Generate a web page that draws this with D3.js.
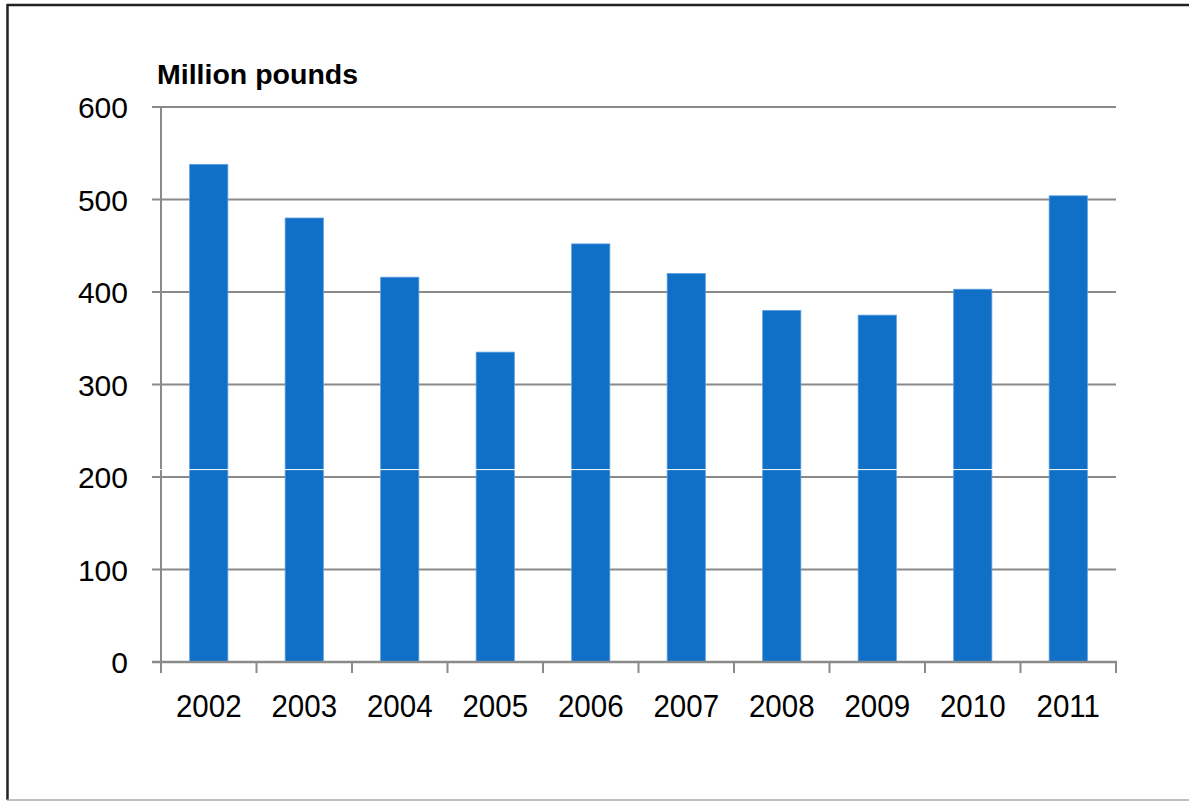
<!DOCTYPE html>
<html>
<head>
<meta charset="utf-8">
<script src="https://cdn.jsdelivr.net/npm/d3@7"></script>
<style>
  body { margin: 0; background: #fff; }
  svg { display: block; }
</style>
</head>
<body>
<svg id="chart" width="1189" height="801"></svg>
<script>
// data
let years = ["2002", "2003", "2004", "2005", "2006", "2007", "2008", "2009", "2010", "2011"];
let values = [538, 480, 416, 335, 452, 420, 380, 375, 403, 504];
let yTicks = [0, 100, 200, 300, 400, 500, 600];

let width = 1189;
let height = 801;
let margin = ({top: 107, right: 73, bottom: 139, left: 161});

const svg = d3.select("#chart");

// frame
svg.append("line").attr("x1", 7).attr("y1", 5).attr("x2", width).attr("y2", 5)
   .attr("stroke", "#222").attr("stroke-width", 2.5);
svg.append("line").attr("x1", 7.5).attr("y1", 4).attr("x2", 7.5).attr("y2", 800)
   .attr("stroke", "#222").attr("stroke-width", 2.5);
svg.append("line").attr("x1", 7).attr("y1", 800).attr("x2", width).attr("y2", 800)
   .attr("stroke", "#aaa").attr("stroke-width", 1.5);

let x = d3.scaleBand()
          .domain(years)
          .range([margin.left, width - margin.right])
          .padding(0);

let y = d3.scaleLinear()
          .domain([0, 600])
          .range([height - margin.bottom, margin.top]);

const grid = "#8a8a8a";
const font = "'Liberation Sans', Arial, sans-serif";

// gridlines with the little ticks left of the axis
svg.append("g")
   .selectAll("line")
   .data(yTicks)
   .join("line")
   .attr("x1", margin.left - 9)
   .attr("x2", width - margin.right)
   .attr("y1", d => y(d))
   .attr("y2", d => y(d))
   .attr("stroke", grid)
   .attr("stroke-width", 2);

// bars
let barW = x.bandwidth() * 0.4;
svg.append("g")
   .selectAll("rect")
   .data(values)
   .join("rect")
   .attr("x", (d, i) => x(years[i]) + (x.bandwidth() - barW) / 2)
   .attr("y", d => y(d))
   .attr("width", barW)
   .attr("height", d => y(0) - y(d))
   .attr("fill", "#106fc7")
   .attr("stroke", "#5d9ee0")
   .attr("stroke-width", 0.8);

// y axis line
svg.append("line")
   .attr("x1", margin.left).attr("x2", margin.left)
   .attr("y1", margin.top).attr("y2", y(0) + 10)
   .attr("stroke", grid).attr("stroke-width", 2);

// thin white seam across the plot, as in the picture
svg.append("line")
   .attr("x1", margin.left - 1).attr("x2", width - margin.right)
   .attr("y1", y(208)).attr("y2", y(208))
   .attr("stroke", "#fff").attr("stroke-width", 1);

// x axis
const xAxis = svg.append("g")
   .attr("transform", `translate(0,${y(0)})`);
xAxis.append("line")
   .attr("x1", margin.left - 9).attr("x2", width - margin.right + 1)
   .attr("stroke", grid).attr("stroke-width", 2.5);
xAxis.selectAll("line.tick")
   .data(years.concat(["end"]))
   .join("line")
   .attr("class", "tick")
   .attr("x1", (d, i) => i < years.length ? x(d) : x.range()[1])
   .attr("x2", (d, i) => i < years.length ? x(d) : x.range()[1])
   .attr("y1", 0).attr("y2", 11)
   .attr("stroke", grid).attr("stroke-width", 2);
xAxis.selectAll("text")
   .data(years)
   .join("text")
   .attr("x", d => x(d) + x.bandwidth() / 2)
   .attr("y", 0)
   .attr("transform", "translate(0,55) scale(1,1.07)")
   .attr("text-anchor", "middle")
   .style("font", `29.5px ${font}`)
   .attr("fill", "#000")
   .text(d => d);

// y tick labels
svg.append("g")
   .selectAll("text")
   .data(yTicks)
   .join("text")
   .attr("x", 128)
   .attr("y", d => y(d))
   .attr("dy", "0.37em")
   .attr("text-anchor", "end")
   .style("font", `30px ${font}`)
   .attr("fill", "#000")
   .text(d => d);

// unit label
svg.append("text")
   .attr("x", 157)
   .attr("y", 84)
   .style("font", `bold 28.5px ${font}`)
   .attr("fill", "#000")
   .text("Million pounds");
</script>
</body>
</html>
